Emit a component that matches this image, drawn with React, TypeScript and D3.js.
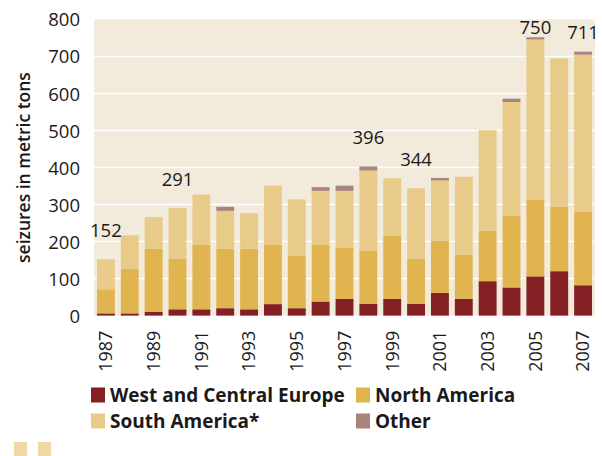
import React, { useRef, useEffect } from "react";
import * as d3 from "d3";

const years = [
  1987, 1988, 1989, 1990, 1991, 1992, 1993, 1994, 1995, 1996, 1997, 1998,
  1999, 2000, 2001, 2002, 2003, 2004, 2005, 2006, 2007,
];
const westCentralEurope = [
  6, 6, 10, 17, 17, 20, 17, 31, 20, 38, 45, 32, 45, 32, 61, 45, 93, 76, 106,
  120, 82,
];
const northAmerica = [
  65, 121, 171, 137, 174, 161, 164, 160, 141, 153, 139, 143, 170, 122, 141,
  119, 136, 193, 208, 174, 198,
];
const southAmerica = [
  81, 90, 85, 137, 136, 102, 96, 160, 153, 146, 153, 217, 156, 190, 163, 211,
  272, 308, 432, 401, 425,
];
const other = [0, 0, 0, 0, 0, 11, 0, 0, 0, 10, 14, 11, 0, 0, 7, 0, 0, 9, 6, 0, 8];

const yTicks = [0, 100, 200, 300, 400, 500, 600, 700, 800];
const xTickYears = [1987, 1989, 1991, 1993, 1995, 1997, 1999, 2001, 2003, 2005, 2007];

// annotated totals
const labelYears = [1987, 1990, 1998, 2000, 2005, 2007];
const labelTexts = ["152", "291", "396", "344", "750", "711"];

const seriesNames = ["West and Central Europe", "North America", "South America*", "Other"];
const seriesColors = ["#842023", "#E0B54F", "#E9CB89", "#A8857A"];

const Chart = () => {
  const ref = useRef<SVGSVGElement | null>(null);

  useEffect(() => {
    if (!ref.current) return;
    const svg = d3.select(ref.current);
    svg.selectAll("*").remove();

    const font = "'Open Sans', 'Noto Sans', sans-serif";
    const plot = { left: 94, right: 595, top: 19.5, bottom: 315.6 };

    const rows = years.map((yr, i) => ({
      year: String(yr),
      we: westCentralEurope[i],
      na: northAmerica[i],
      sa: southAmerica[i],
      other: other[i],
    }));
    const keys = ["we", "na", "sa", "other"];
    const stacked = d3.stack<any>().keys(keys)(rows);

    const x = d3
      .scaleBand()
      .domain(years.map(String))
      .range([plot.left, plot.right])
      .paddingInner(0.25)
      .paddingOuter(0.125);
    const y = d3.scaleLinear().domain([0, 800]).range([plot.bottom, plot.top]);

    // background
    svg
      .append("rect")
      .attr("x", plot.left)
      .attr("y", plot.top)
      .attr("width", plot.right - plot.left)
      .attr("height", plot.bottom - plot.top)
      .attr("fill", "#F2EADB");

    // grid lines
    svg
      .append("g")
      .selectAll("line")
      .data(yTicks.filter((t) => t > 0 && t < 800))
      .enter()
      .append("line")
      .attr("x1", plot.left)
      .attr("x2", plot.right)
      .attr("y1", (d) => y(d))
      .attr("y2", (d) => y(d))
      .attr("stroke", "#ffffff")
      .attr("stroke-width", 1.5);

    // bars
    svg
      .append("g")
      .selectAll("g")
      .data(stacked)
      .enter()
      .append("g")
      .attr("fill", (_, i) => seriesColors[i])
      .selectAll("rect")
      .data((d) => d)
      .enter()
      .append("rect")
      .attr("x", (d: any) => x(d.data.year) || 0)
      .attr("y", (d) => y(d[1]))
      .attr("width", x.bandwidth())
      .attr("height", (d) => Math.max(0, y(d[0]) - y(d[1])));

    // y axis
    svg
      .append("g")
      .attr("transform", `translate(${plot.left - 14},0)`)
      .call(d3.axisLeft(y).tickValues(yTicks).tickSize(0).tickPadding(0))
      .call((g) => g.select(".domain").remove())
      .selectAll("text")
      .attr("dy", "0.35em")
      .style("font-size", "18.5px")
      .style("font-family", font)
      .style("fill", "#1a1a1a");

    // x axis
    svg
      .append("g")
      .attr("transform", `translate(0,${plot.bottom + 15})`)
      .call(
        d3
          .axisBottom(x)
          .tickValues(xTickYears.map(String))
          .tickSize(0)
          .tickPadding(0)
      )
      .call((g) => g.select(".domain").remove())
      .selectAll("text")
      .attr("transform", "rotate(-90)")
      .attr("x", 0)
      .attr("y", 0)
      .attr("dy", "0.35em")
      .style("text-anchor", "end")
      .style("font-size", "18px")
      .style("font-family", font)
      .style("fill", "#1a1a1a");

    // y title
    svg
      .append("text")
      .attr("transform", `translate(24,${(plot.top + plot.bottom) / 2}) rotate(-90)`)
      .attr("text-anchor", "middle")
      .attr("dy", "0.35em")
      .style("font-size", "17.5px")
      .style("font-weight", 600)
      .style("font-family", font)
      .style("fill", "#1a1a1a")
      .text("seizures in metric tons");

    // total labels
    const liftFor: Record<number, number> = { 2005: 3, 2007: 13 };
    svg
      .append("g")
      .selectAll("text")
      .data(labelYears)
      .enter()
      .append("text")
      .attr("x", (d) => (x(String(d)) || 0) + x.bandwidth() / 2)
      .attr("y", (d) => {
        const i = years.indexOf(d);
        const top = y(stacked[stacked.length - 1][i][1]);
        return top - (liftFor[d] ?? 22);
      })
      .attr("text-anchor", "middle")
      .style("font-size", "18.5px")
      .style("font-family", font)
      .style("fill", "#1a1a1a")
      .text((_, i) => labelTexts[i]);

    // legend
    const legendPos = [
      [91, 395],
      [356, 395],
      [91, 421],
      [356, 421],
    ];
    const legend = svg
      .append("g")
      .selectAll("g")
      .data(seriesNames)
      .enter()
      .append("g")
      .attr("transform", (_, i) => `translate(${legendPos[i][0]},${legendPos[i][1]})`);
    legend
      .append("rect")
      .attr("x", 0)
      .attr("y", -7.5)
      .attr("width", 14)
      .attr("height", 15)
      .attr("fill", (_, i) => seriesColors[i]);
    legend
      .append("text")
      .attr("x", 19)
      .attr("y", 0)
      .attr("dy", "0.35em")
      .style("font-size", "19px")
      .style("font-weight", "bold")
      .style("font-family", font)
      .style("fill", "#1a1a1a")
      .text((d) => d);

    // cut-off swatches at the bottom edge
    svg
      .append("g")
      .selectAll("rect")
      .data([14, 38])
      .enter()
      .append("rect")
      .attr("x", (d) => d)
      .attr("y", 442)
      .attr("width", 13)
      .attr("height", 14)
      .attr("fill", "#EFD9A6");
  }, []);

  return (
    <svg
      ref={ref}
      width={602}
      height={456}
      style={{ position: "absolute", left: 0, top: 0, background: "#ffffff" }}
    />
  );
};

export default function App() {
  return <Chart />;
}
